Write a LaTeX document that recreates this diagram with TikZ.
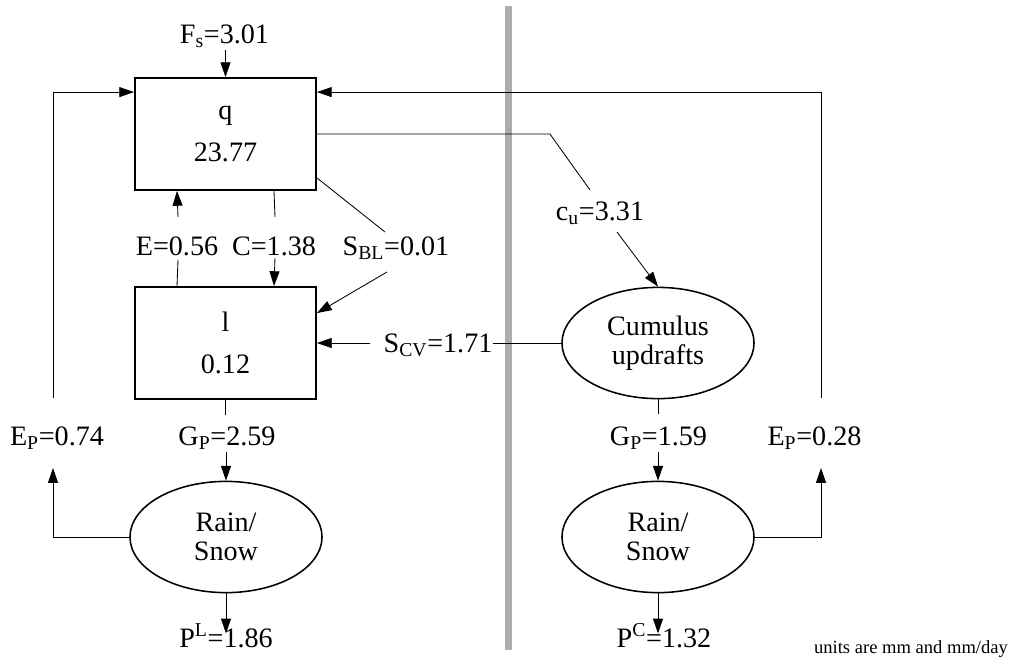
\documentclass[tikz,border=0pt]{standalone}
\usepackage{fontspec}
\setmainfont{Liberation Serif}
\usetikzlibrary{arrows.meta, shapes.geometric, calc, positioning}

\tikzset{
  store/.style={draw, line width=1.3pt, minimum width=4.525cm, minimum height=2.8cm,
    inner sep=0pt, align=center, font=\fontsize{20}{30}\selectfont},
  cloud/.style={draw, ellipse, line width=1.1pt, minimum width=4.8cm, minimum height=2.78cm,
    inner sep=0pt, align=center, font=\fontsize{20}{20.5}\selectfont},
  lbl/.style={anchor=base, inner sep=0pt, font=\fontsize{20}{24}\selectfont},
  flux/.style={line width=0.6pt},
  fluxarr/.style={flux, -{Triangle[length=0.37cm, width=0.25cm]}},
}

\begin{document}
\begin{tikzpicture}[x=0.025cm, y=-0.025cm]
\useasboundingbox (0,0) rectangle (1012,666);

% Divider between large-scale and convective parts
\fill[gray!65] (505,6) rectangle (512,650);

% ============================================================
% Reservoirs and processes
\node[store] (q) at (225.5,134) {q\\23.77};
\node[store] (l) at (225.5,343) {l\\0.12};
\node[cloud] (cum) at (658,343) {Cumulus\\updrafts};
\node[cloud] (rainL) at (226,537) {Rain/\\Snow};
\node[cloud] (rainR) at (658,537) {Rain/\\Snow};

% Flux labels (placed on their baselines)
\node[lbl] (fs) at (224.5,43) {F\textsubscript{s}=3.01};
\node[lbl] (eE) at (177,255) {E=0.56};
\node[lbl] (eC) at (274,255) {C=1.38};
\node[lbl] (eSBL) at (396,255) {S\textsubscript{BL}=0.01};
\node[lbl] (eSCV) at (438,352) {S\textsubscript{CV}=1.71};
\node[lbl] (ecu) at (600,220) {c\textsubscript{u}=3.31};
\node[lbl] (eGPl) at (227,445) {G\textsubscript{P}=2.59};
\node[lbl] (eEPl) at (57,445) {E\textsubscript{P}=0.74};
\node[lbl] (eGPr) at (658.5,445) {G\textsubscript{P}=1.59};
\node[lbl] (eEPr) at (814.5,445) {E\textsubscript{P}=0.28};
\node[lbl] (ePL) at (226,647) {P\textsuperscript{L}=1.86};
\node[lbl] (ePC) at (664,647) {P\textsuperscript{C}=1.32};
\node[anchor=base, inner sep=0pt, font=\fontsize{13.2}{16}\selectfont] (units) at (911,653)
  {units are mm and mm/day};

% ============================================================
% Left column: large-scale cloud water
\draw[fluxarr] ($(q.north |- fs.base)+(0,7)$) -- (q.north);
\draw[flux] (eE |- l.north) -- ($(eE.base)+(1,5)$);
\draw[fluxarr] ($(eE.base)+(1,-38)$) -- (eE |- q.south);
\draw[flux] (eC |- q.south) -- ($(eC.base)+(1,-38)$);
\draw[fluxarr] ($(eC.base)+(1,3)$) -- (eC |- l.north);
\draw[flux] ($(q.south east)+(0,-13)$) -- ($(eSBL.base)+(-11,-23)$);
\draw[fluxarr] ($(eSBL.base)+(-9,17)$) -- ($(l.north east)+(0,27)$);
\draw[fluxarr] ($(eSCV.west |- l.east)+(-13,0)$) -- (l.east);
\draw[flux] (l.south) -- ++(0,15);
\draw[fluxarr] ($(rainL.north)+(0,-29)$) -- (rainL.north);
\draw[fluxarr] (rainL.south) -- ++(0,40);
\draw[fluxarr] (rainL.west) -| ($(eEPl.base)+(-4,23)$);
\draw[fluxarr] ($(eEPl.base)+(-4,-47)$) |- ($(q.north west)+(0,15)$);

% ============================================================
% Right column: convective part
\draw[flux] (q.east) -- ++(233,0) -- ($(ecu.base)+(-10,-30)$);
\draw[fluxarr] ($(ecu.base)+(17,12)$) -- (cum.north);
\draw[flux] (cum.west) -- (eSCV.east |- cum.west);
\draw[flux] (cum.south) -- ++(0,15);
\draw[fluxarr] ($(rainR.north)+(0,-29)$) -- (rainR.north);
\draw[fluxarr] (rainR.south) -- ++(0,40);
\draw[fluxarr] (rainR.east) -| ($(eEPr.base)+(6.5,23)$);
\draw[fluxarr] ($(eEPr.base)+(6.5,-47)$) |- ($(q.north east)+(0,15)$);

\end{tikzpicture}
\end{document}
